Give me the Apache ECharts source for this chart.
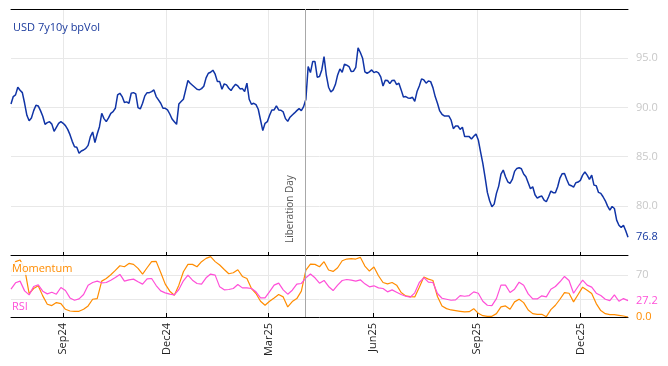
<!DOCTYPE html>
<html><head><meta charset="utf-8">
<script src="https://cdn.jsdelivr.net/npm/echarts@6/dist/echarts.min.js"></script>
<style>html,body{margin:0;padding:0;background:#fff}#c{width:668px;height:366px}</style>
</head><body><div id="c"></div>
<script>
// USD 7y10y bpVol, every 2 calendar days
const volDates = [
'2024-07-17','2024-07-19','2024-07-21','2024-07-23','2024-07-25','2024-07-27','2024-07-29','2024-07-31',
'2024-08-02','2024-08-04','2024-08-06','2024-08-08','2024-08-10','2024-08-12','2024-08-14','2024-08-16','2024-08-18','2024-08-20','2024-08-22','2024-08-24','2024-08-26','2024-08-28','2024-08-30',
'2024-09-01','2024-09-03','2024-09-05','2024-09-07','2024-09-09','2024-09-11','2024-09-13','2024-09-15','2024-09-17','2024-09-19','2024-09-21','2024-09-23','2024-09-25','2024-09-27','2024-09-29',
'2024-10-01','2024-10-03','2024-10-05','2024-10-07','2024-10-09','2024-10-11','2024-10-13','2024-10-15','2024-10-17','2024-10-19','2024-10-21','2024-10-23','2024-10-25','2024-10-27','2024-10-29','2024-10-31',
'2024-11-02','2024-11-04','2024-11-06','2024-11-08','2024-11-10','2024-11-12','2024-11-14','2024-11-16','2024-11-18','2024-11-20','2024-11-22','2024-11-24','2024-11-26','2024-11-28','2024-11-30',
'2024-12-02','2024-12-04','2024-12-06','2024-12-08','2024-12-10','2024-12-12','2024-12-14','2024-12-16','2024-12-18','2024-12-20','2024-12-22','2024-12-24','2024-12-26','2024-12-28','2024-12-30',
'2025-01-01','2025-01-03','2025-01-05','2025-01-07','2025-01-09','2025-01-11','2025-01-13','2025-01-15','2025-01-17','2025-01-19','2025-01-21','2025-01-23','2025-01-25','2025-01-27','2025-01-29','2025-01-31',
'2025-02-02','2025-02-04','2025-02-06','2025-02-08','2025-02-10','2025-02-12','2025-02-14','2025-02-16','2025-02-18','2025-02-20','2025-02-22','2025-02-24','2025-02-26','2025-02-28',
'2025-03-02','2025-03-04','2025-03-06','2025-03-08','2025-03-10','2025-03-12','2025-03-14','2025-03-16','2025-03-18','2025-03-20','2025-03-22','2025-03-24','2025-03-26','2025-03-28','2025-03-30',
'2025-04-01','2025-04-03','2025-04-05','2025-04-07','2025-04-09','2025-04-11','2025-04-13','2025-04-15','2025-04-17','2025-04-19','2025-04-21','2025-04-23','2025-04-25','2025-04-27','2025-04-29',
'2025-05-01','2025-05-03','2025-05-05','2025-05-07','2025-05-09','2025-05-11','2025-05-13','2025-05-15','2025-05-17','2025-05-19','2025-05-21','2025-05-23','2025-05-25','2025-05-27','2025-05-29','2025-05-31',
'2025-06-02','2025-06-04','2025-06-06','2025-06-08','2025-06-10','2025-06-12','2025-06-14','2025-06-16','2025-06-18','2025-06-20','2025-06-22','2025-06-24','2025-06-26','2025-06-28','2025-06-30',
'2025-07-02','2025-07-04','2025-07-06','2025-07-08','2025-07-10','2025-07-12','2025-07-14','2025-07-16','2025-07-18','2025-07-20','2025-07-22','2025-07-24','2025-07-26','2025-07-28','2025-07-30',
'2025-08-01','2025-08-03','2025-08-05','2025-08-07','2025-08-09','2025-08-11','2025-08-13','2025-08-15','2025-08-17','2025-08-19','2025-08-21','2025-08-23','2025-08-25','2025-08-27','2025-08-29','2025-08-31',
'2025-09-02','2025-09-04','2025-09-06','2025-09-08','2025-09-10','2025-09-12','2025-09-14','2025-09-16','2025-09-18','2025-09-20','2025-09-22','2025-09-24','2025-09-26','2025-09-28','2025-09-30',
'2025-10-02','2025-10-04','2025-10-06','2025-10-08','2025-10-10','2025-10-12','2025-10-14','2025-10-16','2025-10-18','2025-10-20','2025-10-22','2025-10-24','2025-10-26','2025-10-28','2025-10-30',
'2025-11-01','2025-11-03','2025-11-05','2025-11-07','2025-11-09','2025-11-11','2025-11-13','2025-11-15','2025-11-17','2025-11-19','2025-11-21','2025-11-23','2025-11-25','2025-11-27','2025-11-29',
'2025-12-01','2025-12-03','2025-12-05','2025-12-07','2025-12-09','2025-12-11','2025-12-13','2025-12-15','2025-12-17','2025-12-19','2025-12-21','2025-12-23','2025-12-25','2025-12-27','2025-12-29','2025-12-31',
'2026-01-02','2026-01-04','2026-01-06','2026-01-08','2026-01-10','2026-01-12'];

const vol = [
90.35,91.1,91.27,92.05,91.74,91.5,90.42,89.2,88.65,88.93,
89.67,90.22,90.15,89.67,89.1,88.28,88.45,88.55,88.3,87.57,
87.98,88.38,88.55,88.38,88.15,87.77,87.23,86.55,86.0,85.94,
85.33,85.57,85.67,85.84,86.14,87.03,87.5,86.42,87.3,88.04,
89.4,88.86,88.55,88.93,89.4,89.57,89.91,91.27,91.44,91.1,
90.49,90.56,90.42,91.44,91.5,91.37,89.98,89.84,90.42,91.17,
91.5,91.5,91.6,91.78,91.1,90.76,90.42,89.91,89.91,89.74,
89.33,88.82,88.55,88.28,90.35,90.59,90.83,91.78,92.73,92.46,
92.25,92.05,91.84,91.78,91.91,92.15,93.0,93.47,93.57,93.78,
93.37,92.62,92.62,91.84,92.39,92.29,91.95,91.71,92.08,92.35,
92.18,91.88,91.91,91.61,92.46,90.83,90.32,90.42,90.28,89.81,
88.72,87.64,88.38,88.55,89.2,89.74,89.74,90.15,89.74,89.71,
89.54,88.86,88.59,89.0,89.23,89.44,89.67,89.88,89.67,90.08,
90.83,94.15,93.54,94.66,94.66,93.07,93.13,93.81,95.17,93.27,
92.05,91.57,91.78,92.32,93.3,93.91,93.57,94.39,94.29,94.15,
93.64,93.68,94.08,96.05,95.58,95.0,93.61,93.47,93.61,93.81,
93.54,93.64,93.51,93.1,92.18,92.76,92.73,92.42,92.73,92.76,
92.32,92.46,91.78,91.06,91.1,90.96,90.93,91.03,90.62,91.61,
92.18,92.9,92.79,92.46,92.69,92.62,92.01,91.1,90.42,89.64,
89.3,89.13,89.13,89.13,88.72,87.84,88.11,88.11,87.77,87.98,
87.03,87.03,87.03,86.79,87.06,87.3,86.69,85.47,84.31,82.89,
81.36,80.51,79.9,80.17,81.26,82.0,83.23,83.63,82.95,82.44,
82.28,82.68,83.5,83.8,83.87,83.77,83.23,82.95,82.34,81.73,
81.94,81.12,80.78,80.92,80.99,80.58,80.41,80.92,81.5,81.33,
81.33,81.94,82.82,83.26,83.29,82.68,82.14,82.04,81.9,82.34,
82.41,82.58,83.12,83.43,83.12,82.68,83.12,82.1,82.04,81.36,
81.26,80.92,80.51,79.97,79.56,79.93,79.73,78.54,78.03,77.8,
78.03,77.46,76.8];

// Momentum and RSI, every 4 calendar days
const oscDates = [
'2024-07-17','2024-07-21','2024-07-25','2024-07-29','2024-08-02','2024-08-06','2024-08-10','2024-08-14','2024-08-18','2024-08-22',
'2024-08-26','2024-08-30','2024-09-03','2024-09-07','2024-09-11','2024-09-15','2024-09-19','2024-09-23','2024-09-27','2024-10-01',
'2024-10-05','2024-10-09','2024-10-13','2024-10-17','2024-10-21','2024-10-25','2024-10-29','2024-11-02','2024-11-06','2024-11-10',
'2024-11-14','2024-11-18','2024-11-22','2024-11-26','2024-11-30','2024-12-04','2024-12-08','2024-12-12','2024-12-16','2024-12-20',
'2024-12-24','2024-12-28','2025-01-01','2025-01-05','2025-01-09','2025-01-13','2025-01-17','2025-01-21','2025-01-25','2025-01-29',
'2025-02-02','2025-02-06','2025-02-10','2025-02-14','2025-02-18','2025-02-22','2025-02-26','2025-03-02','2025-03-06','2025-03-10',
'2025-03-14','2025-03-18','2025-03-22','2025-03-26','2025-03-30','2025-04-03','2025-04-07','2025-04-11','2025-04-15','2025-04-19',
'2025-04-23','2025-04-27','2025-05-01','2025-05-05','2025-05-09','2025-05-13','2025-05-17','2025-05-21','2025-05-25','2025-05-29',
'2025-06-02','2025-06-06','2025-06-10','2025-06-14','2025-06-18','2025-06-22','2025-06-26','2025-06-30','2025-07-04','2025-07-08',
'2025-07-12','2025-07-16','2025-07-20','2025-07-24','2025-07-28','2025-08-01','2025-08-05','2025-08-09','2025-08-13','2025-08-17',
'2025-08-21','2025-08-25','2025-08-29','2025-09-02','2025-09-06','2025-09-10','2025-09-14','2025-09-18','2025-09-22','2025-09-26',
'2025-09-30','2025-10-04','2025-10-08','2025-10-12','2025-10-16','2025-10-20','2025-10-24','2025-10-28','2025-11-01','2025-11-05',
'2025-11-09','2025-11-13','2025-11-17','2025-11-21','2025-11-25','2025-11-29','2025-12-03','2025-12-07','2025-12-11','2025-12-15',
'2025-12-19','2025-12-23','2025-12-27','2025-12-31','2026-01-04','2026-01-08','2026-01-12'];

const momentum = [
75.2,91.9,94.6,80.7,39,47.3,51.8,35.1,21.2,18.9,
23.9,22.3,12.8,10,9.5,9.5,12.8,18.4,29.5,30.6,
59.6,64,70.2,77.4,85.2,83.5,89,87.4,80.7,71.3,
81.8,91.9,92.4,74,54.6,42.9,36.2,52.9,75.2,87.4,
87.4,83.5,91.9,97.4,100.2,92,86.3,79,71.8,73.5,
78.5,67.4,64,47.3,39,26.2,19.5,26.2,31.7,37.3,
33.4,16.7,25.6,30.6,42.9,78,88,87.4,83.5,91.9,
78,75.7,81.8,93.5,96.3,96.9,96.3,99.1,84.6,76.3,
83,68.5,57.3,55.1,57.3,52.9,40.6,35.1,34,33.4,
49.6,66.5,62.9,60.7,34,18.4,13.9,11.7,10.6,9.5,
8.4,8.9,13.9,6.1,2.2,1.1,1.1,5.6,16.7,18.4,
12.8,25.1,29.5,23.9,11.7,5.6,4.5,4.5,0.5,12.2,
19.5,29.5,40.6,39.5,25.1,37.3,49.6,44.5,39,22.3,
10.6,5.6,3.9,3.9,2.8,1.7,0];

const rsi = [
46.2,56.8,59.6,43.4,36.7,50.7,53.5,42.9,38.4,41.2,
37.9,49,44,31.7,27.8,30.1,37.3,52.9,57.3,59.6,
56.8,57.3,61.2,65.7,70.7,59.6,61.8,62.9,58.5,54.6,
63.5,64,52.3,43.4,40.1,37.9,36.7,45.7,60.1,69.6,
61.2,55.7,54.6,65.1,71.3,69.6,50.1,45.1,45.7,47.3,
54,48.4,48.4,47.3,41.8,31.7,31.7,42.3,52.9,56.2,
45.1,37.9,44.5,54.6,55.7,65.1,71.3,65.1,56.2,60.7,
50.7,44,52.9,60.7,62.3,61.2,59.6,61.8,55.1,50.1,
51.8,48.4,47.3,41.8,45.1,41.2,37.3,34.5,32.9,40.1,
57.3,65.5,57.9,57.3,39,31.2,29.5,27.8,28.4,35.6,
34.5,35.6,41.8,39.5,26.2,19.5,18.9,30.6,52.9,52.9,
40.6,46.2,57.9,52.9,38.4,30.1,30.1,35.1,33.4,46.2,
50.7,58.5,67.4,60.7,39.5,50.7,61.2,52.9,49.6,39.5,
35.6,29.5,27.3,36.7,26.2,30.6,27.2];

const tickDates = ['2024-09-01','2024-12-01','2025-03-01','2025-06-01','2025-09-01','2025-12-01'];
const tickLabels = ['Sep24','Dec24','Mar25','Jun25','Sep25','Dec25'];
const eventDate = '2025-04-02';
const eventLabel = 'Liberation Day';
const titleText = 'USD 7y10y bpVol';
const volAxisTicks = [75, 100, 5];
const oscLevels = [30, 70];
const oscLabelLevels = [70];

function ts(s){const p=s.split('-').map(Number);return new Date(p[0],p[1]-1,p[2]).getTime();}
const tickTs = tickDates.map(ts);
const xMin = ts(volDates[0]), xMax = ts(volDates[volDates.length-1]);
function lbl(v){let best=-1,bd=Infinity;tickTs.forEach((t,i)=>{const d=Math.abs(t-v);if(d<bd){bd=d;best=i;}});return bd<86400000*2?tickLabels[best]:'';}
const pts = (ds, arr) => ds.map((d,i)=>[ts(d), arr[i]]);

const FONT = 'Open Sans';
const GRID_C = '#e8e8e8';
const baseX = {type:'value', min:xMin, max:xMax, scale:true};

const chart = echarts.init(document.getElementById('c'), null, {renderer:'canvas'});
chart.setOption({
  animation:false,
  textStyle:{fontFamily:FONT},
  title:[
    {text:titleText, left:8, top:17, textStyle:{fontSize:11, fontWeight:'normal', color:'#1a3a9c', fontFamily:FONT}},
    {text:'Momentum', left:10, top:262, padding:[1,2,1,2], backgroundColor:'rgba(255,255,255,0.85)', textStyle:{fontSize:11, fontWeight:'normal', color:'#ff8c00', fontFamily:FONT}},
    {text:'RSI', left:10, top:300, padding:[1,2,1,2], backgroundColor:'rgba(255,255,255,0.85)', textStyle:{fontSize:11, fontWeight:'normal', color:'#ff4fd8', fontFamily:FONT}}
  ],
  grid:[
    {left:11, right:40, top:9, height:246},
    {left:11, right:40, top:255, height:62}
  ],
  xAxis:[
    Object.assign({gridIndex:0}, baseX, {
      axisLine:{lineStyle:{color:'#000', width:1}},
      axisTick:{inside:true, length:3, customValues:tickTs, lineStyle:{color:'#000'}},
      axisLabel:{show:false},
      splitLine:{show:true, lineStyle:{color:GRID_C}}
    }),
    Object.assign({gridIndex:1}, baseX, {
      axisLine:{lineStyle:{color:'#000', width:1}},
      axisTick:{inside:true, length:4, customValues:tickTs, lineStyle:{color:'#000'}},
      axisLabel:{customValues:tickTs, rotate:90, formatter:lbl, fontSize:11, color:'#222', margin:6, fontFamily:FONT},
      splitLine:{show:true, lineStyle:{color:GRID_C}}
    }),
    Object.assign({gridIndex:0}, baseX, {
      position:'top',
      axisLine:{lineStyle:{color:'#000', width:1}},
      axisTick:{show:false}, axisLabel:{show:false}, splitLine:{show:false}
    })
  ],
  yAxis:[
    {gridIndex:0, type:'value', position:'right', min:volAxisTicks[0], max:volAxisTicks[1], interval:volAxisTicks[2],
      axisLine:{show:false}, axisTick:{show:false},
      axisLabel:{showMinLabel:false, showMaxLabel:false, formatter:v=>v.toFixed(1), color:'#c8c8c8', fontSize:11, margin:8, fontFamily:FONT},
      splitLine:{show:true, lineStyle:{color:GRID_C}}},
    {gridIndex:1, type:'value', position:'right', min:0, max:103,
      axisLine:{show:false}, axisTick:{show:false, customValues:oscLevels},
      axisLabel:{customValues:oscLabelLevels, color:'#c8c8c8', fontSize:11, margin:8, fontFamily:FONT},
      splitLine:{show:true, lineStyle:{color:GRID_C}}}
  ],
  series:[
    {type:'line', name:'vol', xAxisIndex:0, yAxisIndex:0, data:pts(volDates, vol), showSymbol:false, symbol:'none',
      lineStyle:{color:'#1034a6', width:1.5}, itemStyle:{color:'#1034a6'},
      endLabel:{show:true, formatter:p=>p.value[1].toFixed(1), color:'#1538a0', fontSize:11, distance:8, fontFamily:FONT},
      markLine:{silent:true, symbol:'none', animation:false,
        lineStyle:{color:'#a8a8a8', type:'solid', width:1},
        label:{show:true, formatter:eventLabel, position:'insideStartTop', color:'#555', fontSize:10, distance:[12,10], fontFamily:FONT},
        data:[{xAxis:ts(eventDate)}]}},
    {type:'line', name:'Momentum', xAxisIndex:1, yAxisIndex:1, data:pts(oscDates, momentum), showSymbol:false, symbol:'none',
      lineStyle:{color:'#ff8c00', width:1.2}, itemStyle:{color:'#ff8c00'},
      endLabel:{show:true, formatter:p=>p.value[1].toFixed(1), color:'#ff8c00', fontSize:11, distance:8, fontFamily:FONT}},
    {type:'line', name:'RSI', xAxisIndex:1, yAxisIndex:1, data:pts(oscDates, rsi), showSymbol:false, symbol:'none',
      lineStyle:{color:'#ff4fd8', width:1.2}, itemStyle:{color:'#ff4fd8'},
      endLabel:{show:true, formatter:p=>p.value[1].toFixed(1), color:'#ff4fd8', fontSize:11, distance:8, fontFamily:FONT},
      markLine:{silent:true, symbol:'none', animation:false,
        lineStyle:{color:'#a8a8a8', type:'solid', width:1}, label:{show:false},
        data:[{xAxis:ts(eventDate)}]}}
  ]
});
</script></body></html>
